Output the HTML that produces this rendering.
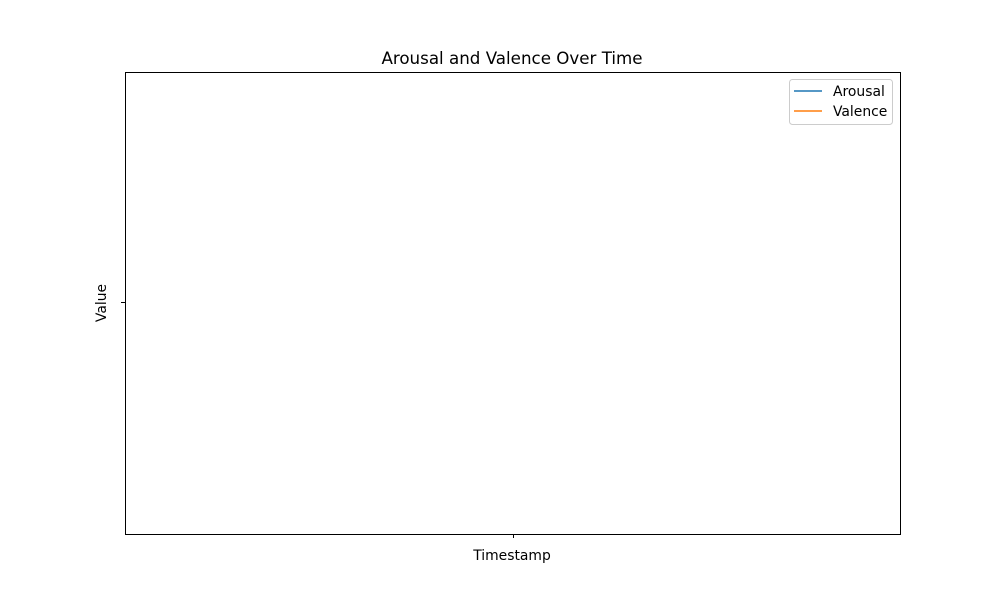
<!DOCTYPE html>
<html><head><meta charset="utf-8"><style>
body{margin:0;background:#fff;}
svg{display:block;font-family:"DejaVu Sans","Liberation Sans",sans-serif;}
</style></head><body>
<svg id="chart" width="1000" height="600" viewBox="0 0 1000 600">
<rect x="0" y="0" width="1000" height="600" fill="#fff"/>
<text x="512" y="64" font-size="16.7" text-anchor="middle" fill="#000">Arousal and Valence Over Time</text>
<g id="series"></g>
<rect x="125.5" y="72.5" width="775" height="462" fill="none" stroke="#000" stroke-width="1"/>
<line x1="121" y1="302.5" x2="125" y2="302.5" stroke="#000"/>
<line x1="513.5" y1="534" x2="513.5" y2="538" stroke="#000"/>
<text x="512" y="560" font-size="13.9" text-anchor="middle">Timestamp</text>
<text transform="translate(106,303) rotate(-90)" font-size="13.9" text-anchor="middle">Value</text>
<g>
<rect x="789.5" y="79.5" width="103" height="45" rx="3" fill="#fff" fill-opacity="0.8" stroke="#ccc"/>
<g>
<line x1="794" y1="91" x2="822" y2="91" stroke="#1f77b4" stroke-width="1.5"/>
<text x="833" y="96" font-size="13.9">Arousal</text></g>
<g>
<line x1="794" y1="111" x2="822" y2="111" stroke="#ff7f0e" stroke-width="1.5"/>
<text x="833" y="116" font-size="13.9">Valence</text></g>
</g>
</svg>
<script>
const timestamps = [];
const arousal = [];
const valence = [];
const plot = {x0:125, x1:900, y0:534, y1:72};
function xScale(i){ const n = timestamps.length; return n>1 ? plot.x0+38.75+(i/(n-1))*(plot.x1-plot.x0-77.5) : (plot.x0+plot.x1)/2; }
function yScale(v){ const all = arousal.concat(valence); if(!all.length) return (plot.y0+plot.y1)/2;
  let mn=Math.min(...all), mx=Math.max(...all); if(mn===mx){mn-=1;mx+=1;} const pad=(mx-mn)*0.05;
  return plot.y0-(v-(mn-pad))/((mx+pad)-(mn-pad))*(plot.y0-plot.y1); }
const layer = document.getElementById('series');
[[arousal,'#1f77b4','arousal-line'],[valence,'#ff7f0e','valence-line']].forEach(function(s){
  if(!s[0].length) return;
  const p = document.createElementNS('http://www.w3.org/2000/svg','polyline');
  p.setAttribute('points', s[0].map(function(v,i){return xScale(i)+','+yScale(v);}).join(' '));
  p.setAttribute('fill','none'); p.setAttribute('stroke',s[1]); p.setAttribute('stroke-width','1.5');
  
  
  layer.appendChild(p);
});
</script>
</body></html>
